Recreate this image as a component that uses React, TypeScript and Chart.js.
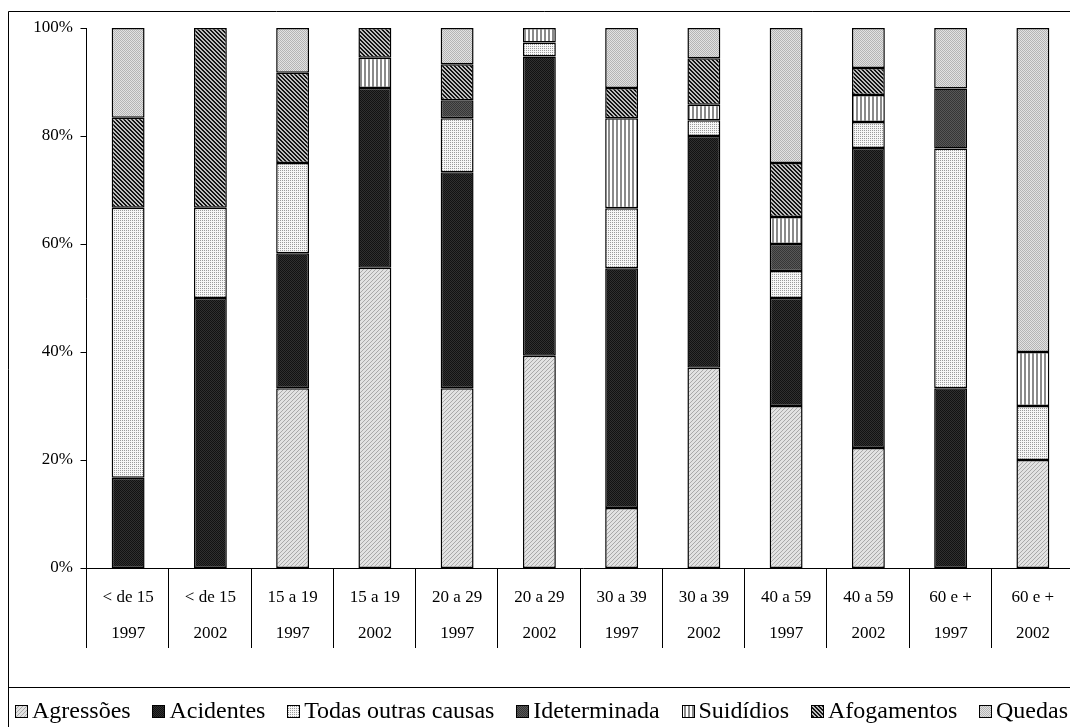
import React, { useEffect, useRef } from "react";
import { Chart, registerables } from "chart.js";

Chart.register(...registerables);

// Age group / year pairs along the horizontal axis
const ageGroups = ["< de 15", "< de 15", "15 a 19", "15 a 19", "20 a 29", "20 a 29", "30 a 39", "30 a 39", "40 a 59", "40 a 59", "60 e +", "60 e +"];
const years = ["1997", "2002", "1997", "2002", "1997", "2002", "1997", "2002", "1997", "2002", "1997", "2002"];

// Share of deaths (%) by cause, stacked bottom to top
const agressoes = [0, 0, 33.3, 55.6, 33.3, 39.3, 11.1, 37.1, 30, 22.2, 0, 20];
const acidentes = [16.7, 50, 25, 33.3, 40, 55.4, 44.4, 42.9, 20, 55.6, 33.3, 0];
const todasOutras = [50, 16.7, 16.7, 0, 10, 2.6, 11.1, 2.9, 5, 4.8, 44.4, 10];
const ideterminada = [0, 0, 0, 0, 3.3, 0, 0, 0, 5, 0, 11.1, 0];
const suicidios = [0, 0, 0, 5.6, 0, 2.7, 16.7, 2.9, 5, 5, 0, 10];
const afogamentos = [16.7, 33.3, 16.7, 5.5, 6.7, 0, 5.6, 8.6, 10, 5, 0, 0];
const quedas = [16.6, 0, 8.3, 0, 6.7, 0, 11.1, 5.6, 25, 7.4, 11.2, 60];

const seriesNames = ["Agressões", "Acidentes", "Todas outras causas", "Ideterminada", "Suidídios", "Afogamentos", "Quedas"];
const seriesValues = [agressoes, acidentes, todasOutras, ideterminada, suicidios, afogamentos, quedas];

const yTicks = [0, 20, 40, 60, 80, 100];

const W = 1080;
const H = 727;
const SERIF = '"Liberation Serif", "Times New Roman", serif';

type Painter = (x: number, y: number) => string;

function makePattern(w: number, h: number, paint: Painter): CanvasPattern {
  const c = document.createElement("canvas");
  c.width = w;
  c.height = h;
  const g = c.getContext("2d")!;
  for (let y = 0; y < h; y++) {
    for (let x = 0; x < w; x++) {
      g.fillStyle = paint(x, y);
      g.fillRect(x, y, 1, 1);
    }
  }
  return g.createPattern(c, "repeat")!;
}

function buildPatterns(): CanvasPattern[] {
  return [
    // Agressões: light grey fine diagonal
    makePattern(4, 4, (x, y) => ((x + y) % 4 === 0 ? "#a9a9a9" : "#e2e2e2")),
    // Acidentes: near-black checker
    makePattern(2, 2, (x, y) => ((x + y) % 2 === 0 ? "#121212" : "#303030")),
    // Todas outras causas: white with grey dots
    makePattern(2, 2, (x, y) => ((x + y) % 2 === 0 && y === 0 ? "#9a9a9a" : "#f6f6f6")),
    // Ideterminada: dark grey checker
    makePattern(2, 2, (x, y) => ((x + y) % 2 === 0 ? "#363636" : "#585858")),
    // Suicídios: vertical stripes
    makePattern(4, 1, (x) => (x < 2 ? "#8a8a8a" : "#ffffff")),
    // Afogamentos: dense diagonal hatch
    makePattern(4, 4, (x, y) => (((x - y + 8) % 4) < 2 ? "#141414" : "#bdbdbd")),
    // Quedas: light grey checker
    makePattern(2, 2, (x, y) => ((x + y) % 2 === 0 ? "#b4b4b4" : "#e2e2e2")),
  ];
}

export default function App() {
  const ref = useRef<HTMLCanvasElement>(null);

  useEffect(() => {
    const canvas = ref.current!;
    const patterns = buildPatterns();

    const decor = {
      id: "decor",
      beforeDraw(chart: any) {
        const ctx = chart.ctx as CanvasRenderingContext2D;
        ctx.save();
        ctx.fillStyle = "#ffffff";
        ctx.fillRect(0, 0, W, H);
        ctx.restore();
      },
      afterDatasetsDraw(chart: any) {
        const ctx = chart.ctx as CanvasRenderingContext2D;
        const xs = chart.scales.x;
        const ys = chart.scales.y;
        const area = chart.chartArea;
        const axisX = Math.round(area.left) - 0.5;
        const axisY = Math.round(area.bottom) + 0.5;
        ctx.save();
        ctx.strokeStyle = "#000";
        ctx.lineWidth = 1;

        // value axis with outward ticks
        ctx.beginPath();
        ctx.moveTo(axisX, Math.round(ys.getPixelForValue(100)));
        ctx.lineTo(axisX, axisY);
        for (const v of yTicks) {
          const py = Math.round(ys.getPixelForValue(v)) + 0.5;
          ctx.moveTo(axisX - 6, py);
          ctx.lineTo(axisX, py);
        }
        ctx.stroke();

        ctx.fillStyle = "#000";
        ctx.font = `17px ${SERIF}`;
        ctx.textAlign = "right";
        ctx.textBaseline = "middle";
        for (const v of yTicks) {
          const py = ys.getPixelForValue(v);
          ctx.fillText(`${v}%`, 73, py);
        }

        // category axis, separators and two-line labels
        const n = ageGroups.length;
        const step = (area.right - area.left) / n;
        ctx.beginPath();
        ctx.moveTo(axisX, axisY);
        ctx.lineTo(W, axisY);
        for (let i = 0; i <= n; i++) {
          const px = Math.round(area.left + i * step) - 0.5;
          ctx.moveTo(px, axisY);
          ctx.lineTo(px, 648);
        }
        ctx.stroke();

        ctx.textAlign = "center";
        for (let i = 0; i < n; i++) {
          const cx = xs.getPixelForValue(i);
          ctx.fillText(ageGroups[i], cx, 598);
          ctx.fillText(years[i], cx, 634);
        }

        // outer frame and legend divider
        ctx.beginPath();
        ctx.moveTo(8.5, H);
        ctx.lineTo(8.5, 11.5);
        ctx.lineTo(W, 11.5);
        ctx.moveTo(8, 687.5);
        ctx.lineTo(W, 687.5);
        ctx.stroke();

        // legend row
        ctx.font = `24px ${SERIF}`;
        ctx.textAlign = "left";
        const box = 12;
        const gap = 5;
        const widths = seriesNames.map((s) => ctx.measureText(s).width);
        const used = widths.reduce((a, b) => a + b + box + gap, 0);
        const startX = 15;
        const endX = 1068;
        const spacing = (endX - startX - used) / (seriesNames.length - 1);
        let lx = startX;
        const ly = 711;
        seriesNames.forEach((name, i) => {
          const bx = Math.round(lx) + 0.5;
          const by = Math.round(ly - box / 2) + 0.5;
          ctx.fillStyle = patterns[i];
          ctx.fillRect(bx, by, box, box);
          ctx.strokeRect(bx, by, box, box);
          ctx.fillStyle = "#000";
          ctx.fillText(name, lx + box + gap, ly + 1);
          lx += box + gap + widths[i] + spacing;
        });
        ctx.restore();
      },
    };

    const chart = new Chart(canvas, {
      type: "bar",
      data: {
        labels: ageGroups.map((a, i) => `${a} ${years[i]}`),
        datasets: seriesNames.map((name, i) => ({
          label: name,
          data: seriesValues[i].map((v) => (v > 0 ? v : null)),
          backgroundColor: patterns[i] as any,
          borderColor: "#000",
          borderWidth: 1.5,
          borderSkipped: false,
          barPercentage: 0.4,
          categoryPercentage: 1,
        })),
      },
      options: {
        responsive: false,
        animation: false,
        devicePixelRatio: 1,
        layout: { padding: { left: 87, top: 28, right: W - 1074, bottom: H - 568 } },
        plugins: { legend: { display: false }, tooltip: { enabled: false } },
        scales: {
          x: { display: false, stacked: true },
          y: { display: false, stacked: true, min: 0, max: 100 },
        },
      },
      plugins: [decor],
    });
    return () => chart.destroy();
  }, []);

  return (
    <div style={{ position: "fixed", left: 0, top: 0, width: 1070, height: 727, overflow: "hidden", background: "#fff" }}>
      <canvas ref={ref} width={W} height={H} style={{ display: "block", width: W, height: H }} />
    </div>
  );
}
